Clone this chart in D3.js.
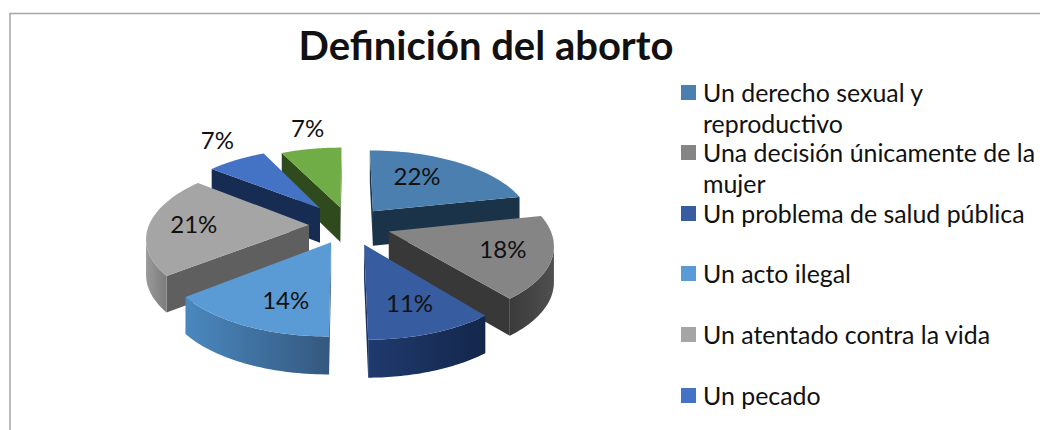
<!DOCTYPE html>
<html>
<head>
    <title>Definición del aborto</title>
    <style>
        html, body { margin: 0; padding: 0; background: #fff; overflow: hidden; }
        text { font-family: Lato, "Open Sans", sans-serif; fill: #111; }
    </style>
    <script src="https://d3js.org/d3.v7.min.js"></script>
</head>
<body>
    <div id="chart"></div>
    <script>
// values, slice angles say a bit more than the rounded labels
var title = 'Definición del aborto';
var values = [21.6, 17.6, 10.7, 14.4, 21.4, 7.1, 7.2];
var legendLabels = [
    ['Un derecho sexual y', 'reproductivo'],
    ['Una decisión únicamente de la', 'mujer'],
    ['Un problema de salud pública'],
    ['Un acto ilegal'],
    ['Un atentado contra la vida'],
    ['Un pecado']
];
var topColors = ['#4a7fb0', '#858585', '#375c9f', '#5b9bd5', '#a5a5a5', '#4472c4', '#70ad47'];
var edgeColors = ['#1b3349', '#383838', '#1a2f5c', '#34587f', '#5f5f5f', '#172c52', '#2f4a1c'];
var wallFrom = ['#2b4f70', '#3a3a3a', '#1f3a6e', '#4a88bf', '#9a9a9a', '#1f3a6e', '#3f6a25'];
var wallTo = ['#1d3750', '#4f4f4f', '#14274b', '#34587f', '#7c7c7c', '#172c52', '#2f4a1c'];

var width = 1040, height = 430;
var cx = 349, cy = 225, rx = 160, ry = 74, persp = 0.152;
var explode = [0.245, 0.26, 0.27, 0.25, 0.25, 0.3, 0.25];
var labelRadius = [0.61, 0.71, 0.70, 0.70, 0.72, 1.4, 1.4];
var labelTurn = [-7.5, 0, 0, -6, 0, 3.5, 2];

var svg = d3.select('#chart').append('svg')
    .attr('width', width)
    .attr('height', height);
var defs = svg.append('defs');

// chart frame, only top and left are in view
svg.append('path')
    .attr('d', 'M10,' + height + 'V13.5H' + width)
    .attr('fill', 'none')
    .attr('stroke', '#a6a6a6')
    .attr('stroke-width', 1.5);

svg.append('text')
    .attr('x', 486)
    .attr('y', 60)
    .attr('text-anchor', 'middle')
    .attr('font-size', 40)
    .attr('font-weight', 700)
    .text(title);

// flat pie plane to screen, with some perspective
function project(px, py) {
    var w = 1 + persp * py;
    return [cx + rx * px / w, cy - ry * py / w, 35 - 2.4 * py];
}

function planePoint(a, r, off) {
    return [off[0] + r * Math.sin(a), off[1] + r * Math.cos(a)];
}

var line = d3.line();
var slices = d3.pie().sort(null)(values);

slices.forEach(function(d) {
    d.mid = (d.startAngle + d.endAngle) / 2;
    d.off = [explode[d.index] * Math.sin(d.mid), explode[d.index] * Math.cos(d.mid)];
});

var order = slices.slice().sort(function(a, b) { return b.off[1] - a.off[1]; });

order.forEach(function(d) {
    var i = d.index;
    var g = svg.append('g');
    var apex = project(d.off[0], d.off[1]);
    var arcPts = d3.range(0, 41).map(function(k) {
        var a = d.startAngle + (d.endAngle - d.startAngle) * k / 40;
        var p = planePoint(a, 1, d.off);
        return project(p[0], p[1]);
    });
    var first = arcPts[0], last = arcPts[arcPts.length - 1];

    function wall(pts) {
        var lower = pts.slice().reverse().map(function(p) { return [p[0], p[1] + p[2]]; });
        return line(pts.map(function(p) { return [p[0], p[1]]; }).concat(lower)) + 'Z';
    }

    // only faces turned to the viewer
    if (first[0] < apex[0]) {
        g.append('path').attr('d', wall([apex, first])).attr('fill', edgeColors[i]);
    }
    if (apex[0] < last[0]) {
        g.append('path').attr('d', wall([last, apex])).attr('fill', edgeColors[i]);
    }

    var front = arcPts.filter(function(p, k) {
        var prev = arcPts[k - 1], next = arcPts[k + 1];
        return (next && next[0] < p[0]) || (prev && p[0] < prev[0]);
    });
    if (front.length > 1) {
        var id = 'wall' + i;
        var grad = defs.append('linearGradient')
            .attr('id', id)
            .attr('gradientUnits', 'userSpaceOnUse')
            .attr('x1', d3.min(front, function(p) { return p[0]; }))
            .attr('x2', d3.max(front, function(p) { return p[0]; }))
            .attr('y1', 0).attr('y2', 0);
        grad.append('stop').attr('offset', 0).attr('stop-color', wallFrom[i]);
        grad.append('stop').attr('offset', 1).attr('stop-color', wallTo[i]);
        g.append('path').attr('d', wall(front)).attr('fill', 'url(#' + id + ')');
    }

    var top = [[apex[0], apex[1]]].concat(arcPts.map(function(p) { return [p[0], p[1]]; }));
    g.append('path').attr('d', line(top) + 'Z').attr('fill', topColors[i]);
});

slices.forEach(function(d) {
    var a = d.mid + labelTurn[d.index] * Math.PI / 180;
    var p = planePoint(a, labelRadius[d.index], d.off);
    var s = project(p[0], p[1]);
    svg.append('text')
        .attr('x', s[0])
        .attr('y', s[1] + 8)
        .attr('text-anchor', 'middle')
        .attr('font-size', 24)
        .text(Math.round(d.value) + '%');
});

// legend, row heights follow the original's uneven spacing
var legendTop = [85, 145, 206, 266, 327, 388];
legendLabels.forEach(function(lines, i) {
    svg.append('rect')
        .attr('x', 681)
        .attr('y', legendTop[i])
        .attr('width', 15)
        .attr('height', 15)
        .attr('fill', topColors[i]);
    lines.forEach(function(t, j) {
        svg.append('text')
            .attr('x', 703)
            .attr('y', legendTop[i] + 17 + j * 31)
            .attr('font-size', 24.9)
            .text(t);
    });
});
    </script>
</body>
</html>
